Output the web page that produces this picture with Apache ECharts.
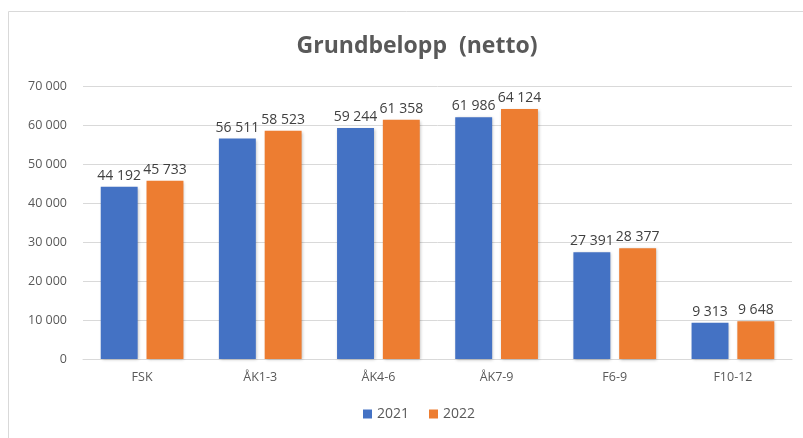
<!DOCTYPE html>
<html><head><meta charset="utf-8">
<script src="https://cdn.jsdelivr.net/npm/echarts@6/dist/echarts.min.js"></script>
<style>html,body{margin:0;padding:0;background:#fff}#c{width:803px;height:438px}</style>
</head><body><div id="c"></div>
<script>
const categories = ['FSK','ÅK1-3','ÅK4-6','ÅK7-9','F6-9','F10-12'];
const values2021 = [44192,56511,59244,61986,27391,9313];
const values2022 = [45733,58523,61358,64124,28377,9648];
const seriesNames = ['2021','2022'];
const fmt = v => String(v).replace(/\B(?=(\d{3})+(?!\d))/g,' ');
const font = 'Open Sans';
const chart = echarts.init(document.getElementById('c'));
const lbl = {show:true,position:'top',distance:4,color:'#404040',fontSize:14,fontFamily:font,formatter:p=>fmt(p.value)};
const shadow = {shadowColor:'rgba(0,0,0,0.25)',shadowBlur:3,shadowOffsetX:1,shadowOffsetY:1};
chart.setOption({
  animation:false,
  title:{text:'Grundbelopp  (netto)',left:412,textAlign:'center',top:30,textStyle:{fontFamily:font,fontSize:23,fontWeight:'bold',color:'#595959'}},
  graphic:[{type:'rect',shape:{x:8.5,y:11.5,width:820,height:460},style:{fill:'none',stroke:'#d9d9d9',lineWidth:1},silent:true}],
  legend:{bottom:12,left:358,itemWidth:9,itemHeight:9,itemGap:20,icon:'rect',textStyle:{fontFamily:font,fontSize:14,color:'#595959'},data:seriesNames},
  grid:{left:83,right:11,top:86,bottom:79,containLabel:false},
  xAxis:{type:'category',data:categories,axisLine:{lineStyle:{color:'#d9d9d9'}},axisTick:{show:false},axisLabel:{fontFamily:font,fontSize:12.5,color:'#595959',margin:12}},
  yAxis:{type:'value',min:0,max:70000,interval:10000,axisLabel:{fontFamily:font,fontSize:12.5,color:'#595959',margin:16,formatter:v=>fmt(v)},splitLine:{lineStyle:{color:'#d9d9d9'}},axisLine:{show:false},axisTick:{show:false}},
  series:[
    {name:seriesNames[0],type:'bar',data:values2021,itemStyle:Object.assign({color:'#4472C4'},shadow),barGap:'24%',barCategoryGap:'30%',label:lbl},
    {name:seriesNames[1],type:'bar',data:values2022,itemStyle:Object.assign({color:'#ED7D31'},shadow),label:lbl}
  ]
});
</script></body></html>
